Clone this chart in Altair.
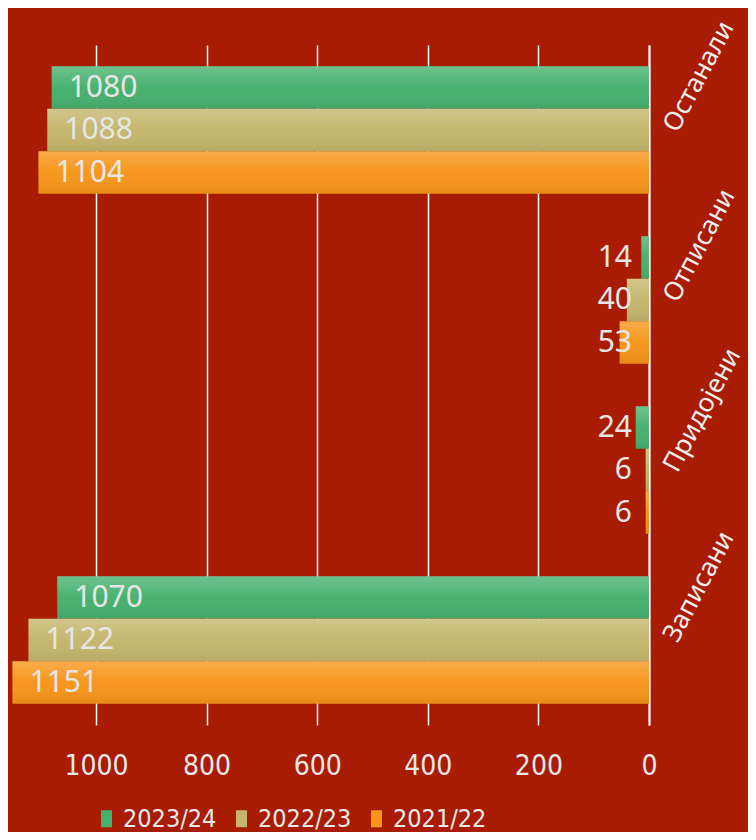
import altair as alt
import pandas as pd

categories = ["Останали", "Отписани", "Придојени", "Записани"]
series = ["2023/24", "2022/23", "2021/22"]
v_2023_24 = [1080, 14, 24, 1070]
v_2022_23 = [1088, 40, 6, 1122]
v_2021_22 = [1104, 53, 6, 1151]
tick_values = [0, 200, 400, 600, 800, 1000]
colors = ["#46b16e", "#c4b66c", "#f7951a"]

rows = []
for s, vals in zip(series, [v_2023_24, v_2022_23, v_2021_22]):
    for c, v in zip(categories, vals):
        rows.append({"cat": c, "series": s, "value": v})
df = pd.DataFrame(rows)

NARROW = "Liberation Sans Narrow, DejaVu Sans Condensed, sans-serif"
LABEL = "Noto Sans, DejaVu Sans, sans-serif"

x_enc = alt.X("value:Q",
              scale=alt.Scale(domain=[0, 1159], reverse=True, nice=False, zero=True),
              axis=alt.Axis(values=tick_values, format="d", grid=True, gridColor="#ffffff",
                            gridWidth=1.5, domain=False, ticks=False, labelFontSize=28,
                            labelFont=NARROW, labelColor="#e8e8e8", labelPadding=27,
                            labelBaseline="top", labelOverlap=False, labelFlush=False,
                            title=None))
y_enc = alt.Y("cat:N", sort=categories,
              scale=alt.Scale(paddingInner=0.25, paddingOuter=0.125),
              axis=alt.Axis(orient="right", labelAngle=-62, labelAlign="left",
                            labelBaseline="middle", labelPadding=21, ticks=False,
                            domain=True, domainColor="#ffffff", domainWidth=2,
                            grid=False, labelFontSize=26, labelFont=LABEL,
                            labelColor="#eeeeee", labelLimit=0, labelOverlap=False,
                            title=None))
yoff = alt.YOffset("series:N", sort=series, scale=alt.Scale(paddingInner=0, paddingOuter=0))

base = alt.Chart(df)

bars = base.mark_bar().encode(
    x=x_enc, y=y_enc, yOffset=yoff,
    color=alt.Color("series:N", sort=series,
                    scale=alt.Scale(domain=series, range=colors),
                    legend=alt.Legend(orient="none", legendX=86, legendY=761,
                                      direction="horizontal", title=None,
                                      symbolType="M-0.65,-1L0.65,-1L0.65,1L-0.65,1Z",
                                      symbolSize=289, symbolStrokeWidth=0, symbolOpacity=1,
                                      labelFontSize=25, labelFont=NARROW,
                                      labelColor="#e8e8e8", columnPadding=12,
                                      labelOffset=4, labelLimit=0)),
)

shade = base.mark_bar(color={
    "gradient": "linear", "x1": 0, "y1": 0, "x2": 0, "y2": 1,
    "stops": [
        {"offset": 0, "color": "rgba(255,255,255,0.22)"},
        {"offset": 0.5, "color": "rgba(255,255,255,0.02)"},
        {"offset": 1, "color": "rgba(0,0,0,0.07)"},
    ]}).encode(x="value:Q", y=alt.Y("cat:N", sort=categories), yOffset=yoff)

big_labels = base.transform_filter("datum.value >= 500").mark_text(
    align="left", baseline="middle", dx=17, fontSize=30, font=LABEL, color="#e6e6e6"
).encode(x="value:Q", y=alt.Y("cat:N", sort=categories), yOffset=yoff, text="value:Q")

small_labels = base.transform_filter("datum.value < 500").transform_calculate(
    zero="0").mark_text(
    align="right", baseline="middle", dx=-17, fontSize=30, font=LABEL, color="#e6e6e6"
).encode(x="zero:Q", y=alt.Y("cat:N", sort=categories), yOffset=yoff, text="value:Q")

chart = alt.layer(bars, shade, big_labels, small_labels).properties(
    width=641, height=680,
    autosize=alt.AutoSizeParams(type="none"),
    padding={"left": 0, "top": 37, "right": 99, "bottom": 107},
    background="#a81c04",
).configure_view(stroke=None)

chart.save("out.html", embed_options={"renderer": "svg", "actions": False})
